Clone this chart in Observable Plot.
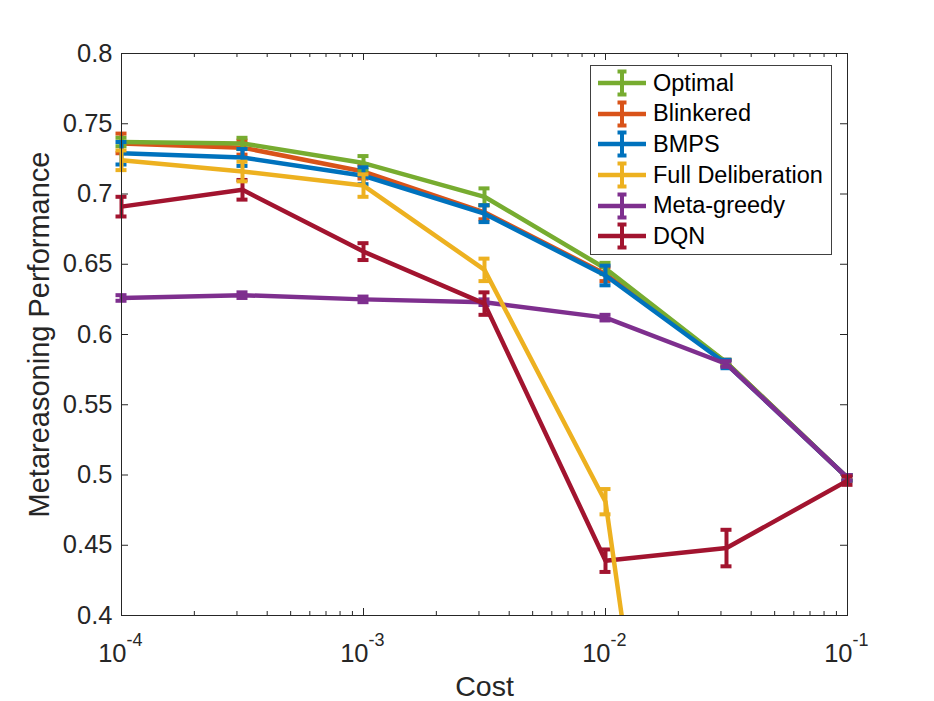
<!DOCTYPE html>
<html>
<head>
<meta charset="utf-8">
<script src="https://cdn.jsdelivr.net/npm/d3@7"></script>
<script src="https://cdn.jsdelivr.net/npm/@observablehq/plot@0.6"></script>
<style>
  html, body { margin: 0; padding: 0; background: #fff; }
  #wrap { position: relative; width: 934px; height: 701px; font-family: "Liberation Sans", Arial, Helvetica, sans-serif; }
  #legend { position: absolute; left: 590px; top: 65px; width: 242px; height: 190px; border: 1px solid #404040; background: #fff; box-sizing: border-box; padding-top: 2px; }
  .lrow { display: flex; align-items: center; height: 30.6px; }
  .lrow svg { flex: none; }
  .lrow span { font-size: 23.5px; color: #000; margin-left: 6px; white-space: nowrap; }
</style>
</head>
<body>
<div id="wrap">
  <div id="chart"></div>
  <div id="legend"></div>
</div>
<script>
// ---- data ----
const costs = [1e-4, 3.162e-4, 1e-3, 3.162e-3, 1e-2, 3.162e-2, 1e-1];
const seriesNames = ["Optimal", "Blinkered", "BMPS", "Full Deliberation", "Meta-greedy", "DQN"];
const seriesColors = ["#77AC30", "#D95319", "#0072BD", "#EDB120", "#7E2F8E", "#A2142F"];

const optimal        = [0.737, 0.736, 0.722, 0.698, 0.647, 0.580, 0.498];
const optimalErr     = [0.003, 0.004, 0.005, 0.006, 0.004, 0.002, 0.002];
const blinkered      = [0.736, 0.733, 0.716, 0.687, 0.643, 0.580, 0.498];
const blinkeredErr   = [0.007, 0.005, 0.005, 0.005, 0.005, 0.002, 0.002];
const bmps           = [0.729, 0.726, 0.713, 0.686, 0.642, 0.579, 0.498];
const bmpsErr        = [0.008, 0.006, 0.006, 0.006, 0.007, 0.003, 0.002];
const fullDelib      = [0.724, 0.716, 0.706, 0.646, 0.481, -0.125];
const fullDelibErr   = [0.007, 0.007, 0.008, 0.008, 0.009, 0.000];
const metaGreedy     = [0.626, 0.628, 0.625, 0.623, 0.612, 0.579, 0.498];
const metaGreedyErr  = [0.002, 0.002, 0.002, 0.002, 0.002, 0.002, 0.002];
const dqn            = [0.691, 0.703, 0.659, 0.622, 0.439, 0.448, 0.496];
const dqnErr         = [0.007, 0.007, 0.006, 0.008, 0.008, 0.013, 0.003];

const yTicks = [0.4, 0.45, 0.5, 0.55, 0.6, 0.65, 0.7, 0.75, 0.8];
const yTickLabels = ["0.4", "0.45", "0.5", "0.55", "0.6", "0.65", "0.7", "0.75", "0.8"];
const xMajorTicks = [1e-4, 1e-3, 1e-2, 1e-1];
const xTickExponents = ["-4", "-3", "-2", "-1"];
const xLabel = "Cost";
const yLabel = "Metareasoning Performance";

// ---- build table ----
const means = [optimal, blinkered, bmps, fullDelib, metaGreedy, dqn];
const errs = [optimalErr, blinkeredErr, bmpsErr, fullDelibErr, metaGreedyErr, dqnErr];
const rows = [];
seriesNames.forEach((s, k) => {
  means[k].forEach((v, i) => rows.push({series: s, cost: costs[i], value: v, err: errs[k][i]}));
});
const colorOf = Object.fromEntries(seriesNames.map((s, k) => [s, seriesColors[k]]));
const drawOrder = ["Blinkered", "Optimal", "BMPS", "Meta-greedy", "DQN", "Full Deliberation"];

const xMinorTicks = d3.scaleLog().domain([1e-4, 1e-1]).ticks().filter(t => !xMajorTicks.some(m => Math.abs(m - t) / m < 1e-6));

const W = 934, H = 701, mT = 53, mR = 87, mB = 86, mL = 121;
const pw = W - mL - mR, ph = H - mT - mB;
const axisColor = "#262626";
const lw = 4.5, ew = 4;

const seriesMarks = drawOrder.flatMap(s => {
  const d = rows.filter(r => r.series === s);
  const e = d.filter(r => r.value >= 0.4 && r.err > 0);
  const c = colorOf[s];
  return [
    Plot.line(d, {x: "cost", y: "value", stroke: c, strokeWidth: lw, strokeLinejoin: "round", clip: true}),
    Plot.ruleX(e, {x: "cost", y1: r => r.value - r.err, y2: r => r.value + r.err, stroke: c, strokeWidth: ew}),
    Plot.ruleY(e, {y: r => r.value + r.err, x1: "cost", x2: "cost", insetLeft: -5.5, insetRight: -5.5, stroke: c, strokeWidth: ew}),
    Plot.ruleY(e, {y: r => r.value - r.err, x1: "cost", x2: "cost", insetLeft: -5.5, insetRight: -5.5, stroke: c, strokeWidth: ew})
  ];
});

const chart = Plot.plot({
  width: W, height: H,
  marginTop: mT, marginRight: mR, marginBottom: mB, marginLeft: mL,
  style: {fontFamily: '"Liberation Sans", Arial, Helvetica, sans-serif', fontSize: "25px", color: axisColor, background: "#fff", overflow: "visible"},
  x: {type: "log", domain: [1e-4, 1e-1], axis: null},
  y: {domain: [0.4, 0.8], axis: null},
  marks: [
    // tick marks (inward)
    Plot.tickY(yTicks, {y: d => d, insetRight: pw - 7, stroke: axisColor}),
    Plot.tickY(yTicks, {y: d => d, insetLeft: pw - 7, stroke: axisColor}),
    Plot.tickX(xMajorTicks, {x: d => d, insetTop: ph - 7, stroke: axisColor}),
    Plot.tickX(xMajorTicks, {x: d => d, insetBottom: ph - 7, stroke: axisColor}),
    Plot.tickX(xMinorTicks, {x: d => d, insetTop: ph - 4, stroke: axisColor}),
    Plot.tickX(xMinorTicks, {x: d => d, insetBottom: ph - 4, stroke: axisColor}),
    // y tick labels
    Plot.text(yTicks, {y: d => d, frameAnchor: "left", text: (d, i) => yTickLabels[i], textAnchor: "end", lineAnchor: "middle", dx: -9, fill: axisColor, fontSize: 25.5}),
    // x tick labels 10^k
    Plot.text(xMajorTicks, {x: d => d, frameAnchor: "bottom", text: () => "10", textAnchor: "end", lineAnchor: "middle", dx: 5, dy: 38, fill: axisColor, fontSize: 25.5}),
    Plot.text(xMajorTicks, {x: d => d, frameAnchor: "bottom", text: (d, i) => xTickExponents[i], textAnchor: "start", lineAnchor: "middle", dx: 5, dy: 25, fill: axisColor, fontSize: 18}),
    // axis titles
    Plot.text([xLabel], {frameAnchor: "bottom", text: d => d, textAnchor: "middle", lineAnchor: "middle", dy: 71, fill: axisColor, fontSize: 28.5}),
    Plot.text([yLabel], {frameAnchor: "left", text: d => d, textAnchor: "middle", lineAnchor: "middle", dx: -82, rotate: -90, fill: axisColor, fontSize: 29}),
    ...seriesMarks,
    Plot.frame({stroke: axisColor, strokeWidth: 1})
  ]
});
document.getElementById("chart").appendChild(chart);

// ---- legend ----
const legend = document.getElementById("legend");
seriesNames.forEach((s, k) => {
  const c = seriesColors[k];
  const row = document.createElement("div");
  row.className = "lrow";
  row.innerHTML =
    `<svg width="56" height="30">
       <line x1="7" x2="55" y1="15" y2="15" stroke="${c}" stroke-width="4.5"/>
       <line x1="31" x2="31" y1="3" y2="27" stroke="${c}" stroke-width="4"/>
       <line x1="26.5" x2="35.5" y1="3.5" y2="3.5" stroke="${c}" stroke-width="4"/>
       <line x1="26.5" x2="35.5" y1="26.5" y2="26.5" stroke="${c}" stroke-width="4"/>
     </svg><span>${s}</span>`;
  legend.appendChild(row);
});
</script>
</body>
</html>
